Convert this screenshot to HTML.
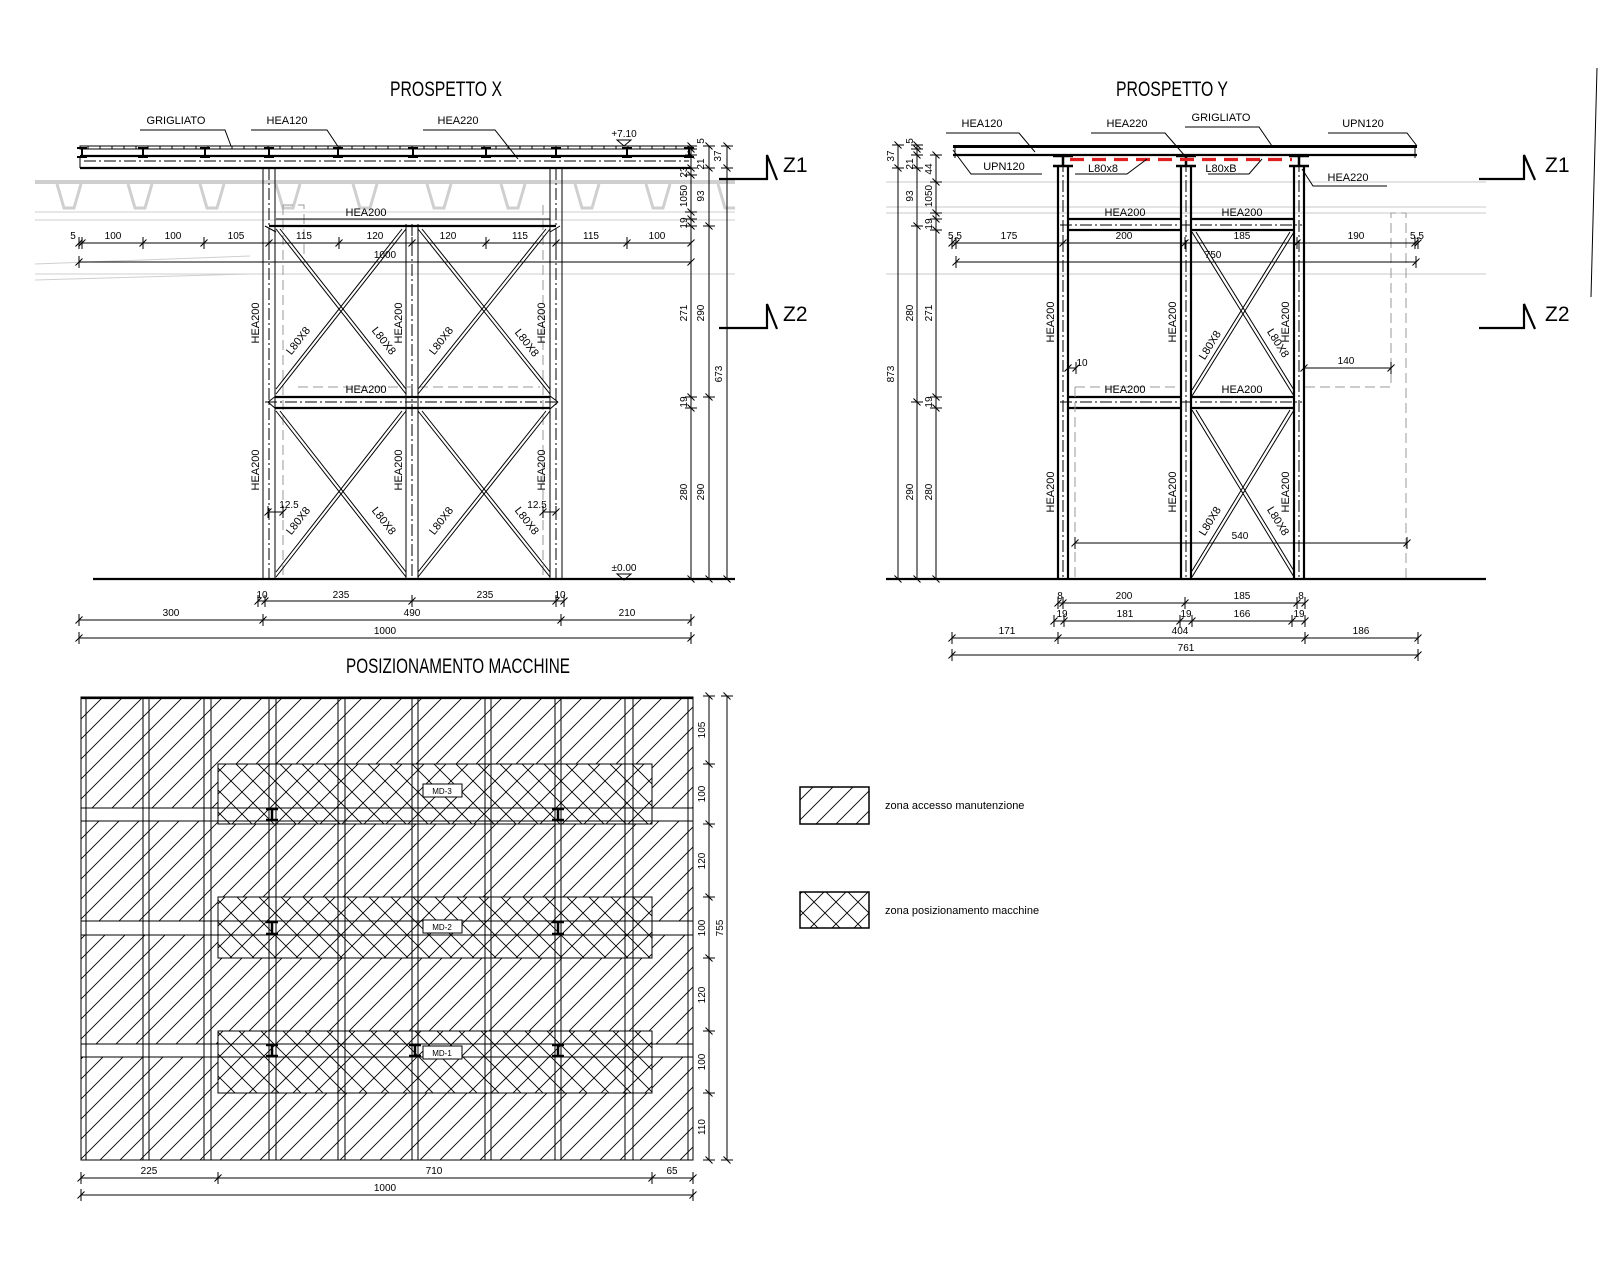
<!DOCTYPE html>
<html><head><meta charset="utf-8"><style>
html,body{margin:0;padding:0;background:#fff}
svg{display:block}
text{font-family:"Liberation Sans Narrow","Liberation Sans",sans-serif;fill:#000}
.l{stroke:#000;stroke-width:1;fill:none}
.k{stroke:#000;stroke-width:2.2;fill:none}
.dd{stroke:#000;stroke-width:1;fill:none;stroke-dasharray:12 3 2 3}
.g{stroke:#c8c8c8;stroke-width:1;fill:none}
.gd{stroke:#999;stroke-width:1;fill:none;stroke-dasharray:10 5}
.dim{stroke:#000;stroke-width:1;fill:none;marker-start:url(#tk);marker-mid:url(#tk);marker-end:url(#tk)}
.s{font-size:10px}
.m{font-size:11px}
.ti{font-size:21px}
</style></head><body>
<svg width="1600" height="1280" viewBox="0 0 1600 1280" xmlns="http://www.w3.org/2000/svg">
<defs>
<marker id="tk" markerUnits="userSpaceOnUse" viewBox="-6 -6 12 12" markerWidth="12" markerHeight="12" orient="auto" refX="0" refY="0">
<path d="M-3.5,3.5 L3.5,-3.5 M0,-6 L0,6" stroke="#000" stroke-width="1" fill="none"/>
</marker>
<pattern id="hd" patternUnits="userSpaceOnUse" width="20" height="20">
<path d="M0,20 L20,0 M-5,5 L5,-5 M15,25 L25,15" stroke="#000" stroke-width="0.9"/>
</pattern>
<pattern id="hx" patternUnits="userSpaceOnUse" width="22" height="22">
<path d="M0,22 L22,0 M-5,5 L5,-5 M17,27 L27,17 M0,0 L22,22 M-5,17 L5,27 M17,-5 L27,5" stroke="#000" stroke-width="0.9"/>
</pattern>
<g id="ib"><path d="M-5,0 H5 M0,0 V9 M-5,9 H5" stroke="#000" stroke-width="2" fill="none"/></g>
</defs>

<!-- ================= PROSPETTO X ================= -->
<text class="ti" x="390" y="96" textLength="112" lengthAdjust="spacingAndGlyphs">PROSPETTO X</text>

<g stroke="#cfcfcf" fill="none">
<path d="M35,182 H735" stroke-width="4"/>
<path d="M35,212 H735 M35,220 H735 M35,274 H735" stroke-width="1"/>
<path d="M35,264 L250,256 M35,280 L250,274" stroke-width="1"/>
<g stroke-width="3">
<path d="M57,184 L64,208 H74 L81,184"/><path d="M128,184 L135,208 H145 L152,184"/>
<path d="M200,184 L207,208 H217 L224,184"/><path d="M276,184 L283,208 H293 L300,184"/>
<path d="M353,184 L360,208 H370 L377,184"/><path d="M427,184 L434,208 H444 L451,184"/>
<path d="M501,184 L508,208 H518 L525,184"/><path d="M575,184 L582,208 H592 L599,184"/>
<path d="M646,184 L653,208 H663 L670,184"/><path d="M718,184 L725,208 H735"/>
</g></g>

<rect x="80" y="146" width="611" height="3" class="l"/>
<g class="l"><path d="M88,146V149 M100,146V149 M112,146V149 M124,146V149 M136,146V149 M148,146V149 M160,146V149 M172,146V149 M184,146V149 M196,146V149 M208,146V149 M220,146V149 M232,146V149 M244,146V149 M256,146V149 M268,146V149 M280,146V149 M292,146V149 M304,146V149 M316,146V149 M328,146V149 M340,146V149 M352,146V149 M364,146V149 M376,146V149 M388,146V149 M400,146V149 M412,146V149 M424,146V149 M436,146V149 M448,146V149 M460,146V149 M472,146V149 M484,146V149 M496,146V149 M508,146V149 M520,146V149 M532,146V149 M544,146V149 M556,146V149 M568,146V149 M580,146V149 M592,146V149 M604,146V149 M616,146V149 M628,146V149 M640,146V149 M652,146V149 M664,146V149 M676,146V149 M688,146V149"/></g>
<path class="k" d="M80,156 H691 M80,168 H691"/>
<path class="l" d="M80,156 V168 M691,156 V168"/>
<path class="dd" d="M84,161 H689"/>
<g><use href="#ib" x="82" y="148"/><use href="#ib" x="143" y="148"/><use href="#ib" x="205" y="148"/><use href="#ib" x="269" y="148"/><use href="#ib" x="338" y="148"/><use href="#ib" x="413" y="148"/><use href="#ib" x="486" y="148"/><use href="#ib" x="556" y="148"/><use href="#ib" x="627" y="148"/><use href="#ib" x="689" y="148"/></g>

<path class="l" d="M263,168V579 M275,168V579 M406,224V579 M418,224V579 M550,168V579 M562,168V579"/>
<path class="dd" d="M269,168V579 M412,224V579 M556,168V579"/>
<path class="gd" d="M283,205V579 M543,205V579 M283,205 H304 V255 M298,387 H540"/>
<path class="l" d="M276,219 H550"/>
<path class="k" d="M269,226 H556"/>
<path class="l" d="M265,226 L276,232 M560,226 L550,232"/>
<path class="k" d="M275,397 H550 M275,408 H550"/>
<path class="dd" d="M265,402 H560"/>
<path class="l" d="M268,402 L276,396 M268,402 L276,409 M558,402 L550,396 M558,402 L550,409"/>
<g class="l">
<path d="M276,229 L406,394 M280,229 L406,389 M406,229 L276,394 M402,229 L276,389"/>
<path d="M418,229 L550,394 M422,229 L550,389 M550,229 L418,394 M546,229 L418,389"/>
<path d="M276,411 L406,577 M280,411 L406,572 M406,411 L276,577 M402,411 L276,572"/>
<path d="M418,411 L550,577 M422,411 L550,572 M550,411 L418,577 M546,411 L418,572"/>
</g>
<path class="k" d="M93,579 H735"/>
<text class="s" x="624" y="571" text-anchor="middle">±0.00</text>
<path class="l" d="M617,574 H631 L624,580 Z"/>
<text class="s" x="624" y="137" text-anchor="middle">+7.10</text>
<path class="l" d="M617,140 H631 L624,146 Z"/>

<text class="m" x="176" y="124" text-anchor="middle">GRIGLIATO</text>
<text class="m" x="287" y="124" text-anchor="middle">HEA120</text>
<text class="m" x="458" y="124" text-anchor="middle">HEA220</text>
<path class="l" d="M140,130 H225 L231,146 M251,130 H327 L339,148 M423,130 H495 L518,159"/>
<text class="m" x="366" y="216" text-anchor="middle">HEA200</text>
<text class="m" x="366" y="393" text-anchor="middle">HEA200</text>
<g class="m" text-anchor="middle">
<text transform="translate(259,323) rotate(-90)">HEA200</text>
<text transform="translate(402,323) rotate(-90)">HEA200</text>
<text transform="translate(545,323) rotate(-90)">HEA200</text>
<text transform="translate(259,470) rotate(-90)">HEA200</text>
<text transform="translate(402,470) rotate(-90)">HEA200</text>
<text transform="translate(545,470) rotate(-90)">HEA200</text>
<text transform="translate(301,343) rotate(-52)">L80X8</text>
<text transform="translate(381,343) rotate(52)">L80X8</text>
<text transform="translate(444,343) rotate(-52)">L80X8</text>
<text transform="translate(524,345) rotate(52)">L80X8</text>
<text transform="translate(301,523) rotate(-52)">L80X8</text>
<text transform="translate(381,523) rotate(52)">L80X8</text>
<text transform="translate(444,523) rotate(-52)">L80X8</text>
<text transform="translate(524,523) rotate(52)">L80X8</text>
</g>
<text class="s" x="289" y="508" text-anchor="middle">12.5</text>
<text class="s" x="537" y="508" text-anchor="middle">12.5</text>
<path class="dim" d="M268,512 H283"/><path class="dim" d="M543,512 H556"/>

<polyline class="dim" points="79,243 82,243 143,243 204,243 269,243 339,243 412,243 486,243 556,243 627,243 691,243"/>
<g class="s" text-anchor="middle">
<text x="73" y="239">5</text><text x="113" y="239">100</text><text x="173" y="239">100</text><text x="236" y="239">105</text><text x="304" y="239">115</text><text x="375" y="239">120</text><text x="448" y="239">120</text><text x="520" y="239">115</text><text x="591" y="239">115</text><text x="657" y="239">100</text>
<text x="385" y="258">1000</text>
</g>
<polyline class="dim" points="79,262 691,262"/>
<polyline class="dim" points="258,601 265,601 412,601 556,601 564,601"/>
<polyline class="dim" points="79,620 263,620 561,620 691,620"/>
<polyline class="dim" points="79,638 691,638"/>
<g class="s" text-anchor="middle">
<text x="262" y="598">10</text><text x="341" y="598">235</text><text x="485" y="598">235</text><text x="560" y="598">10</text>
<text x="171" y="616">300</text><text x="412" y="616">490</text><text x="627" y="616">210</text>
<text x="385" y="634">1000</text>
</g>
<polyline class="dim" points="691,146 691,149 691,155 691,168 691,175 691,212 691,219 691,226 691,397 691,408 691,579"/>
<polyline class="dim" points="709,146 709,168 709,226 709,397 709,579"/>
<polyline class="dim" points="727,146 727,168 727,579"/>
<g class="s" text-anchor="middle">
<text transform="translate(704,141) rotate(-90)">5</text>
<text transform="translate(721,156) rotate(-90)">37</text>
<text transform="translate(704,164) rotate(-90)">21</text>
<text transform="translate(687,172) rotate(-90)">23</text>
<text transform="translate(687,196) rotate(-90)">1050</text>
<text transform="translate(704,196) rotate(-90)">93</text>
<text transform="translate(687,223) rotate(-90)">19</text>
<text transform="translate(687,313) rotate(-90)">271</text>
<text transform="translate(704,313) rotate(-90)">290</text>
<text transform="translate(722,374) rotate(-90)">673</text>
<text transform="translate(687,402) rotate(-90)">19</text>
<text transform="translate(687,492) rotate(-90)">280</text>
<text transform="translate(704,492) rotate(-90)">290</text>
</g>
<path class="k" d="M719,179 H767 V155 L777,180"/>
<text x="783" y="172" style="font-size:21px">Z1</text>
<path class="k" d="M719,328 H767 V304 L777,329"/>
<text x="783" y="321" style="font-size:21px">Z2</text>

<!-- ================= PROSPETTO Y ================= -->
<text class="ti" x="1116" y="96" textLength="112" lengthAdjust="spacingAndGlyphs">PROSPETTO Y</text>
<path class="g" d="M886,182 H1486 M886,207 H1486 M886,213 H1486 M886,274 H1486"/>
<path d="M953,146.5 H1417" stroke="#000" stroke-width="3"/>
<path class="k" d="M953,155 H1417"/>
<path class="l" d="M955,146 V158 M1415,146 V158"/>
<path class="k" d="M1058,165V579 M1068,165V579 M1181,165V579 M1191,165V579 M1294,165V579 M1304,165V579"/>
<path class="dd" d="M1063,160V579 M1186,160V579 M1299,160V579"/>
<g stroke="#000" stroke-width="2.5"><path d="M1053,156 H1073 M1053,166 H1073 M1063,156 V166 M1176,156 H1196 M1176,166 H1196 M1186,156 V166 M1289,156 H1309 M1289,166 H1309 M1299,156 V166"/></g>
<path d="M1070,159.5 H1292" stroke="#e02020" stroke-width="3.2" stroke-dasharray="14 8"/>
<path class="k" d="M1068,219 H1181 M1068,230 H1181 M1191,219 H1294 M1191,230 H1294 M1068,397 H1181 M1068,408 H1181 M1191,397 H1294 M1191,408 H1294"/>
<path class="dd" d="M1060,225 H1302 M1060,402 H1302"/>
<g class="l">
<path d="M1192,232 L1294,396 M1196,232 L1294,390 M1294,232 L1192,396 M1290,232 L1192,390"/>
<path d="M1192,410 L1294,577 M1196,410 L1294,571 M1294,410 L1192,577 M1290,410 L1192,571"/>
</g>
<path class="gd" d="M1075,387 V579 M1075,387 H1180 M1305,387 H1391 V213 H1406 V579"/>
<path class="k" d="M886,579 H1486"/>
<g class="m" text-anchor="middle">
<text x="982" y="127">HEA120</text><text x="1127" y="127">HEA220</text><text x="1221" y="121">GRIGLIATO</text><text x="1363" y="127">UPN120</text>
<text x="1004" y="170">UPN120</text><text x="1103" y="172">L80x8</text><text x="1221" y="172">L80xB</text><text x="1348" y="181">HEA220</text>
<text x="1125" y="216">HEA200</text><text x="1242" y="216">HEA200</text>
<text x="1125" y="393">HEA200</text><text x="1242" y="393">HEA200</text>
<text transform="translate(1054,322) rotate(-90)">HEA200</text>
<text transform="translate(1176,322) rotate(-90)">HEA200</text>
<text transform="translate(1289,322) rotate(-90)">HEA200</text>
<text transform="translate(1054,492) rotate(-90)">HEA200</text>
<text transform="translate(1176,492) rotate(-90)">HEA200</text>
<text transform="translate(1289,492) rotate(-90)">HEA200</text>
<text transform="translate(1213,347) rotate(-58)">L80X8</text>
<text transform="translate(1275,345) rotate(58)">L80X8</text>
<text transform="translate(1213,523) rotate(-58)">L80X8</text>
<text transform="translate(1275,523) rotate(58)">L80X8</text>
</g>
<path class="l" d="M946,133 H1019 L1035,152 M1091,133 H1165 L1185,156 M1185,127 H1259 L1272,146 M1328,133 H1407 L1417,146 M953,150 L971,174 H1042 M1075,174 H1127 L1147,159 M1208,174 H1249 L1262,159 M1302,169 L1313,186 H1387"/>
<g class="s" text-anchor="middle">
<text x="1082" y="366">10</text><text x="1346" y="364">140</text><text x="1240" y="539">540</text>
</g>
<polyline class="dim" points="1068,368 1076,368"/>
<polyline class="dim" points="1304,368 1391,368"/>
<polyline class="dim" points="1075,543 1407,543"/>
<polyline class="dim" points="952,243 956,243 1063,243 1185,243 1297,243 1415,243 1418,243"/>
<polyline class="dim" points="956,262 1416,262"/>
<g class="s" text-anchor="middle">
<text x="955" y="239">5.5</text><text x="1009" y="239">175</text><text x="1124" y="239">200</text><text x="1242" y="239">185</text><text x="1356" y="239">190</text><text x="1417" y="239">5.5</text>
<text x="1213" y="258">750</text>
</g>
<polyline class="dim" points="1058,603 1063,603 1185,603 1297,603 1305,603"/>
<polyline class="dim" points="1054,621 1064,621 1180,621 1192,621 1292,621 1305,621"/>
<polyline class="dim" points="952,638 1058,638 1305,638 1418,638"/>
<polyline class="dim" points="952,655 1418,655"/>
<g class="s" text-anchor="middle">
<text x="1060" y="599">8</text><text x="1124" y="599">200</text><text x="1242" y="599">185</text><text x="1301" y="599">8</text>
<text x="1062" y="617">19</text><text x="1125" y="617">181</text><text x="1186" y="617">19</text><text x="1242" y="617">166</text><text x="1299" y="617">19</text>
<text x="1007" y="634">171</text><text x="1180" y="634">404</text><text x="1361" y="634">186</text>
<text x="1186" y="651">761</text>
</g>
<polyline class="dim" points="898,145 898,168 898,579"/>
<polyline class="dim" points="917,145 917,149 917,155 917,168 917,226 917,402 917,579"/>
<polyline class="dim" points="936,155 936,182 936,213 936,219 936,230 936,397 936,408 936,579"/>
<g class="s" text-anchor="middle">
<text transform="translate(894,156) rotate(-90)">37</text>
<text transform="translate(913,141) rotate(-90)">5</text>
<text transform="translate(913,164) rotate(-90)">21</text>
<text transform="translate(932,169) rotate(-90)">44</text>
<text transform="translate(913,196) rotate(-90)">93</text>
<text transform="translate(932,196) rotate(-90)">1050</text>
<text transform="translate(932,224) rotate(-90)">19</text>
<text transform="translate(913,313) rotate(-90)">280</text>
<text transform="translate(932,313) rotate(-90)">271</text>
<text transform="translate(894,374) rotate(-90)">873</text>
<text transform="translate(932,402) rotate(-90)">19</text>
<text transform="translate(913,492) rotate(-90)">290</text>
<text transform="translate(932,492) rotate(-90)">280</text>
</g>
<path class="k" d="M1479,179 H1524 V155 L1535,180"/>
<text x="1545" y="172" style="font-size:21px">Z1</text>
<path class="k" d="M1479,328 H1524 V304 L1535,329"/>
<text x="1545" y="321" style="font-size:21px">Z2</text>
<path class="l" d="M1597,68 L1591,297"/>

<!-- ================= POSIZIONAMENTO MACCHINE ================= -->
<text class="ti" x="346" y="673" textLength="224" lengthAdjust="spacingAndGlyphs">POSIZIONAMENTO MACCHINE</text>
<rect x="81" y="697" width="612" height="463" fill="url(#hd)"/>
<rect x="81" y="808" width="612" height="13" fill="#fff"/>
<rect x="81" y="921" width="612" height="14" fill="#fff"/>
<rect x="81" y="1044" width="612" height="13" fill="#fff"/>
<rect x="218" y="764" width="434" height="60" fill="#fff"/><rect x="218" y="764" width="434" height="60" fill="url(#hx)" stroke="#000" stroke-width="1"/>
<rect x="218" y="897" width="434" height="61" fill="#fff"/><rect x="218" y="897" width="434" height="61" fill="url(#hx)" stroke="#000" stroke-width="1"/>
<rect x="218" y="1031" width="434" height="62" fill="#fff"/><rect x="218" y="1031" width="434" height="62" fill="url(#hx)" stroke="#000" stroke-width="1"/>
<path class="l" d="M81,808 H693 M81,821 H693 M81,921 H693 M81,935 H693 M81,1044 H693 M81,1057 H693"/>
<path class="l" d="M86,697V1160 M143,697V1160 M149,697V1160 M204,697V1160 M211,697V1160 M269,697V1160 M276,697V1160 M338,697V1160 M345,697V1160 M412,697V1160 M418,697V1160 M485,697V1160 M491,697V1160 M555,697V1160 M561,697V1160 M625,697V1160 M633,697V1160 M688,697V1160"/>
<rect x="81" y="697" width="612" height="463" class="l" stroke-width="1.6"/>
<path class="k" d="M81,698 H693"/>
<g stroke="#000" stroke-width="2.5" fill="none">
<path d="M266,809 H278 M272,809 V820 M266,820 H278 M552,809 H564 M558,809 V820 M552,820 H564"/>
<path d="M266,922 H278 M272,922 V934 M266,934 H278 M552,922 H564 M558,922 V934 M552,934 H564"/>
<path d="M266,1045 H278 M272,1045 V1056 M266,1056 H278 M409,1045 H421 M415,1045 V1056 M409,1056 H421 M552,1045 H564 M558,1045 V1056 M552,1056 H564"/>
</g>
<g style="font-size:8px" text-anchor="middle">
<rect x="423" y="784" width="39" height="13" fill="#fff" stroke="#000"/><text x="442" y="794">MD-3</text>
<rect x="423" y="920" width="39" height="13" fill="#fff" stroke="#000"/><text x="442" y="930">MD-2</text>
<rect x="423" y="1046" width="39" height="13" fill="#fff" stroke="#000"/><text x="442" y="1056">MD-1</text>
</g>
<polyline class="dim" points="709,696 709,764 709,824 709,897 709,958 709,1031 709,1093 709,1160"/>
<polyline class="dim" points="727,696 727,1160"/>
<g class="s" text-anchor="middle">
<text transform="translate(705,730) rotate(-90)">105</text>
<text transform="translate(705,794) rotate(-90)">100</text>
<text transform="translate(705,861) rotate(-90)">120</text>
<text transform="translate(705,928) rotate(-90)">100</text>
<text transform="translate(705,995) rotate(-90)">120</text>
<text transform="translate(705,1062) rotate(-90)">100</text>
<text transform="translate(705,1127) rotate(-90)">110</text>
<text transform="translate(723,928) rotate(-90)">755</text>
</g>
<polyline class="dim" points="81,1178 218,1178 652,1178 693,1178"/>
<polyline class="dim" points="81,1195 693,1195"/>
<g class="s" text-anchor="middle">
<text x="149" y="1174">225</text><text x="434" y="1174">710</text><text x="672" y="1174">65</text>
<text x="385" y="1191">1000</text>
</g>

<rect x="800" y="787" width="69" height="37" fill="url(#hd)" stroke="#000" stroke-width="1.5"/>
<rect x="800" y="892" width="69" height="36" fill="url(#hx)" stroke="#000" stroke-width="1.5"/>
<text x="885" y="809" style="font-size:11px">zona accesso manutenzione</text>
<text x="885" y="914" style="font-size:11px">zona posizionamento macchine</text>
</svg>
</body></html>
